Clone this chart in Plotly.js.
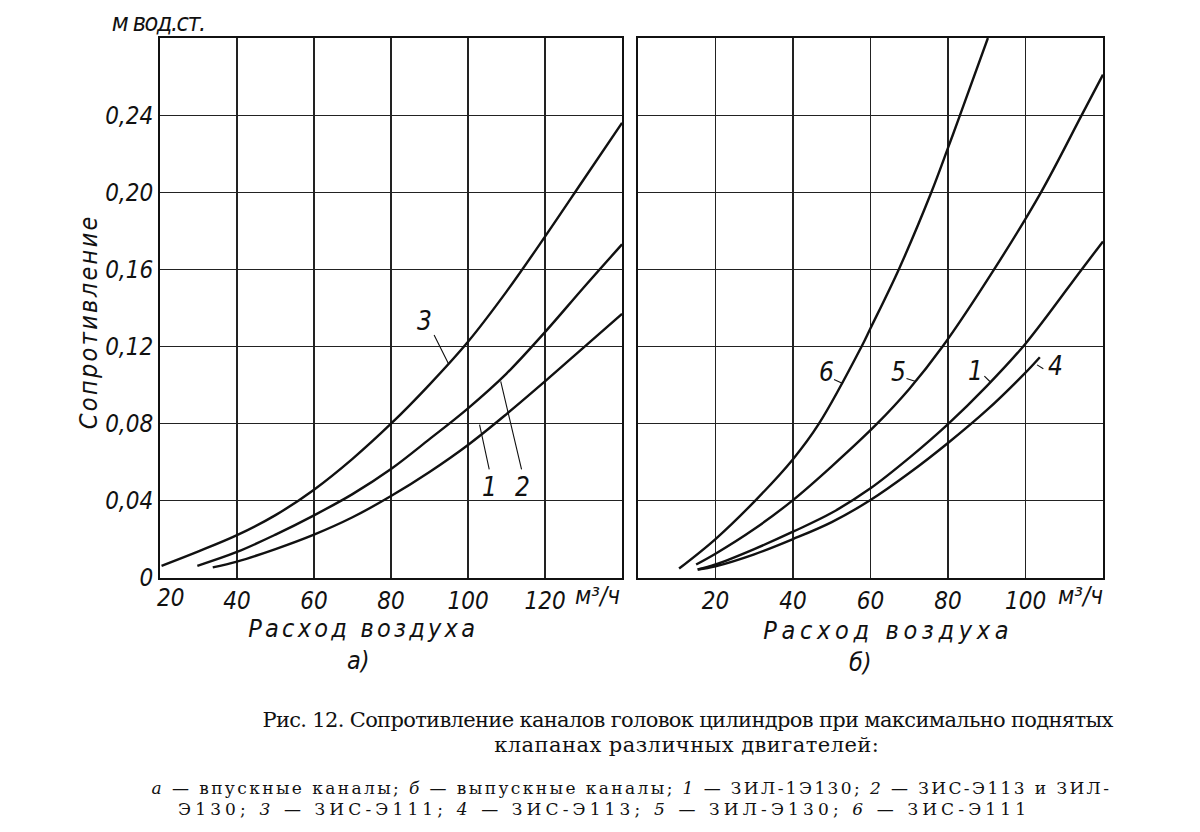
<!DOCTYPE html>
<html>
<head>
<meta charset="utf-8">
<script src="https://cdn.plot.ly/plotly-3.0.1.min.js"></script>
<style>
  html, body { margin: 0; padding: 0; background: #fff; }
  #chart { width: 1200px; height: 832px; }
</style>
</head>
<body>
<div id="chart"></div>
<script>
// ---- Panel a) intake channels (x: м³/ч, y: м вод. ст.) ----
const a1X = [33.7, 40, 50, 60, 70, 80, 90, 100, 110, 120, 130, 140];
const a1Y = [0.0055, 0.0085, 0.0150, 0.0225, 0.0315, 0.0425, 0.0550, 0.0690, 0.0850, 0.1020, 0.1195, 0.1370];
const a2X = [29.7, 40, 50, 60, 70, 80, 90, 100, 110, 120, 130, 140];
const a2Y = [0.0063, 0.0135, 0.0225, 0.0325, 0.0435, 0.0565, 0.0720, 0.0880, 0.1060, 0.1275, 0.1505, 0.1730];
const a3X = [20.4, 30, 40, 50, 60, 70, 80, 90, 100, 110, 120, 130, 140];
const a3Y = [0.0063, 0.0138, 0.0222, 0.0326, 0.0458, 0.0618, 0.0800, 0.1003, 0.1225, 0.1485, 0.1770, 0.2065, 0.2360];

// ---- Panel б) exhaust channels ----
const b1X = [15.4, 20, 30, 40, 50, 60, 70, 80, 90, 100, 114.5, 120];
const b1Y = [0.0044, 0.0070, 0.0150, 0.0240, 0.0338, 0.0465, 0.0623, 0.0798, 0.0995, 0.1215, 0.1600, 0.1745];
const b4X = [15.4, 20, 30, 40, 50, 60, 70, 80, 90, 100, 103.7];
const b4Y = [0.0044, 0.0061, 0.0123, 0.0202, 0.0290, 0.0404, 0.0544, 0.0700, 0.0870, 0.1065, 0.1145];
const b5X = [15, 20, 30, 40, 50, 61.7, 70, 78.6, 91.9, 104, 114.5, 120];
const b5Y = [0.0070, 0.0126, 0.0254, 0.0404, 0.0579, 0.0800, 0.0980, 0.1200, 0.1600, 0.2000, 0.2400, 0.2610];
const b6X = [10.6, 20, 30.2, 40, 46.7, 57.7, 60, 67.3, 75.7, 80, 83.1, 90.3];
const b6Y = [0.0049, 0.0202, 0.0400, 0.0616, 0.0800, 0.1200, 0.1295, 0.1600, 0.2000, 0.2230, 0.2400, 0.2800];

// ---- Ticks ----
const yTickVals = [0, 0.04, 0.08, 0.12, 0.16, 0.20, 0.24];
const yTickText = ['0', '0,04', '0,08', '0,12', '0,16', '0,20', '0,24'];
const xaTickVals = [20, 40, 60, 80, 100, 120];
const xaTickText = ['', '40', '60', '80', '100', '120'];
const xaFirstTick = '20';   // printed just right of the frame corner
const xbTickVals = [0, 20, 40, 60, 80, 100, 120];
const xbTickText = ['', '20', '40', '60', '80', '100', ''];

// ---- Curve labels (text position) and leader lines ----
const labAText = ['3', '1', '2'];
const labAX = [88.6, 105.7, 114.2];
const labAY = [0.133, 0.047, 0.047];
const leadAX0 = [91.0, 105.6, 114.0];
const leadAY0 = [0.1268, 0.0555, 0.0555];
const leadAX1 = [94.9, 103.0, 108.5];
const leadAY1 = [0.1112, 0.0795, 0.1020];

const labBText = ['6', '5', '1', '4'];
const labBX = [48.6, 67.2, 87.2, 107.8];
const labBY = [0.1068, 0.1068, 0.1075, 0.1100];
const leadBX0 = [50.2, 68.9, 89.0, 102.6];
const leadBY0 = [0.1033, 0.1037, 0.1055, 0.1110];
const leadBX1 = [52.7, 71.5, 91.0, 104.6];
const leadBY1 = [0.1010, 0.1020, 0.1015, 0.1085];

const lineStyle = {color: '#111', width: 2.4, shape: 'spline', smoothing: 1};
function tr(x, y, xa, ya) {
  return {x: x, y: y, xaxis: xa, yaxis: ya, mode: 'lines', line: lineStyle, hoverinfo: 'skip', showlegend: false};
}
const data = [
  tr(a1X, a1Y, 'x', 'y'), tr(a2X, a2Y, 'x', 'y'), tr(a3X, a3Y, 'x', 'y'),
  tr(b1X, b1Y, 'x2', 'y2'), tr(b4X, b4Y, 'x2', 'y2'), tr(b5X, b5Y, 'x2', 'y2'), tr(b6X, b6Y, 'x2', 'y2')
];

const handFamily = 'Liberation Sans Narrow, DejaVu Sans Condensed, sans-serif';
const tickFont = {family: handFamily, style: 'italic', size: 24, color: '#111'};
const handFont = {family: handFamily, style: 'italic', size: 25, color: '#111'};
const numFont = {family: handFamily, style: 'italic', size: 26, color: '#111'};
const capFont = {family: 'DejaVu Serif, Liberation Serif, serif', size: 21, color: '#111'};
const capFont2 = {family: 'DejaVu Serif, Liberation Serif, serif', size: 17, color: '#111'};

const axBase = {
  showgrid: true, gridcolor: '#222', gridwidth: 1.2,
  showline: true, linecolor: '#111', linewidth: 2, mirror: true,
  zeroline: false, ticks: '', tickfont: tickFont, fixedrange: true
};
const yDom = [1 - 578 / 832, 1 - 38 / 832];

const annotations = [];
const fits = []; // [annotation index, target width in px]
function addLabels(texts, xs, ys, x0, y0, x1, y1, xr, yr) {
  for (let i = 0; i < texts.length; i++) {
    annotations.push({text: texts[i], x: xs[i], y: ys[i], xref: xr, yref: yr, showarrow: false, font: numFont,
      xanchor: 'center', yanchor: 'middle'});
    annotations.push({text: '', x: x1[i], y: y1[i], ax: x0[i], ay: y0[i], xref: xr, yref: yr, axref: xr, ayref: yr,
      showarrow: true, arrowhead: 0, arrowwidth: 1.1, arrowcolor: '#111', standoff: 0, startstandoff: 0});
  }
}
addLabels(labAText, labAX, labAY, leadAX0, leadAY0, leadAX1, leadAY1, 'x', 'y');
addLabels(labBText, labBX, labBY, leadBX0, leadBY0, leadBX1, leadBY1, 'x2', 'y2');

function paperText(text, px, py, font, width, extra) {
  annotations.push(Object.assign({text: text, x: px / 1200, y: 1 - py / 832, xref: 'paper', yref: 'paper',
    showarrow: false, font: font, xanchor: 'center', yanchor: 'middle'}, extra || {}));
  if (width) fits.push([annotations.length - 1, width]);
}
paperText(xaFirstTick, 171, 598, tickFont, 0);
paperText('м вод.ст.', 158, 22, handFont, 93);
paperText('Сопротивление', 88, 322, handFont, 215, {textangle: -90});
paperText('Расход воздуха', 363, 628, handFont, 230);
paperText('а)', 358, 660, handFont, 0);
paperText('Расход воздуха', 888, 630, handFont, 250);
paperText('б)', 860, 662, handFont, 0);
paperText('м³/ч', 597, 596, tickFont, 0);
paperText('м³/ч', 1080, 596, tickFont, 0);
paperText('Рис. 12. Сопротивление каналов головок цилиндров при максимально поднятых', 687, 720, capFont, 850);
paperText('клапанах различных двигателей:', 687, 745, capFont, 385);
paperText('<i>а</i> — впускные каналы; <i>б</i> — выпускные каналы; <i>1</i> — ЗИЛ-1Э130; <i>2</i> — ЗИС-Э113 и ЗИЛ-', 632, 788, capFont2, 960);
paperText('Э130; <i>3</i> — ЗИС-Э111; <i>4</i> — ЗИС-Э113; <i>5</i> — ЗИЛ-Э130; <i>6</i> — ЗИС-Э111', 604, 809, capFont2, 852);

const layout = {
  width: 1200, height: 832,
  margin: {l: 0, r: 0, t: 0, b: 0},
  paper_bgcolor: '#fff', plot_bgcolor: '#fff',
  showlegend: false,
  xaxis: Object.assign({}, axBase, {domain: [160 / 1200, 622 / 1200], range: [20, 140], tickvals: xaTickVals, ticktext: xaTickText, anchor: 'y'}),
  yaxis: Object.assign({}, axBase, {domain: yDom, range: [0, 0.28], tickvals: yTickVals, ticktext: yTickText, anchor: 'x'}),
  xaxis2: Object.assign({}, axBase, {domain: [638 / 1200, 1103 / 1200], range: [0, 120], tickvals: xbTickVals, ticktext: xbTickText, anchor: 'y2'}),
  yaxis2: Object.assign({}, axBase, {domain: yDom, range: [0, 0.28], tickvals: yTickVals, showticklabels: false, anchor: 'x2'}),
  annotations: annotations
};

// spread (or tighten) letters of the hand-lettered and caption texts to the printed widths
function fitTexts(gd) {
  fits.forEach(function (f) {
    const t = gd.querySelector('g.annotation[data-index="' + f[0] + '"] text.annotation-text');
    if (!t) return;
    t.style.letterSpacing = '0px';
    const len = t.getComputedTextLength();
    const n = t.textContent.length;
    if (n > 1) t.style.letterSpacing = ((f[1] - len) / n).toFixed(2) + 'px';
  });
}

Plotly.newPlot('chart', data, layout, {displayModeBar: false, staticPlot: true}).then(fitTexts);
</script>
</body>
</html>
